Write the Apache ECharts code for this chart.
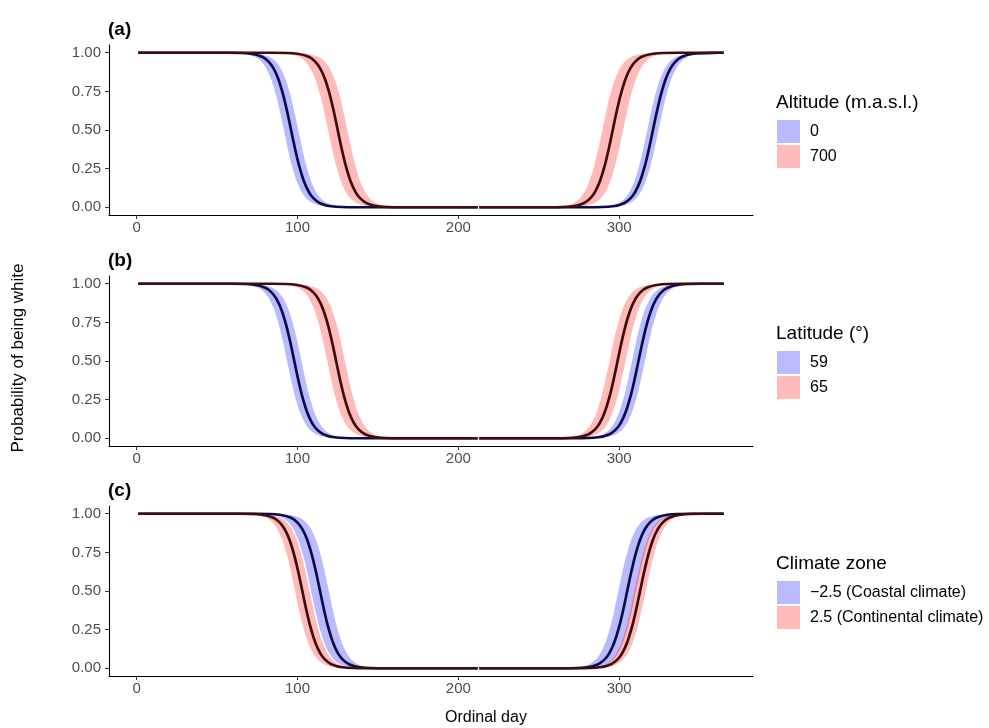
<!DOCTYPE html>
<html>
<head>
<meta charset="utf-8">
<script src="https://cdn.jsdelivr.net/npm/echarts@6/dist/echarts.min.js"></script>
<style>html,body{margin:0;padding:0;background:#fff}#c{width:989px;height:728px}</style>
</head>
<body>
<div id="c"></div>
<script>
// Probability levels at which the curves were read (spring = falling, autumn = rising)
const pDown = [1, 0.9997, 0.9933, 0.9734, 0.9427, 0.9002, 0.8320, 0.7311, 0.6225, 0.5, 0.3775, 0.2689, 0.1680, 0.0998, 0.0573, 0.0266, 0.0067, 0.0003, 0];
const pUp   = [0, 0.0003, 0.0067, 0.0266, 0.0573, 0.0998, 0.1680, 0.2689, 0.3775, 0.5, 0.6225, 0.7311, 0.8320, 0.9002, 0.9427, 0.9734, 0.9933, 0.9997, 1];

// Ordinal days at which each curve reaches the probability levels above
// Panel (a) Altitude
const altBlueSprMid = [1,56,71,78,82,85,88,91,93.5,96,98.5,101,104,107,110,114,121,136,212];
const altBlueSprE   = [1,51.5,66.5,73.5,77.5,80.5,83.5,86.5,89,91.5,94,96.5,99.5,102.5,105.5,109.5,116.5,131.5,212];
const altBlueSprL   = [1,60.5,75.5,82.5,86.5,89.5,92.5,95.5,98,100.5,103,105.5,108.5,111.5,114.5,118.5,125.5,140.5,212];
const altRedSprMid  = [1,85,100,107,111,114,117,120,122.5,125,127.5,130,133,136,139,143,150,165,212];
const altRedSprE    = [1,79,94,101,105,108,111,114,116.5,119,121.5,124,127,130,133,137,144,159,212];
const altRedSprL    = [1,91,106,113,117,120,123,126,128.5,131,133.5,136,139,142,145,149,156,171,212];
const altRedAutMid  = [213,256,271,278,282,285,288,291,293.5,296,298.5,301,304,307,310,314,321,336,365];
const altRedAutE    = [213,249.5,264.5,271.5,275.5,278.5,281.5,284.5,287,289.5,292,294.5,297.5,300.5,303.5,307.5,314.5,329.5,365];
const altRedAutL    = [213,262.5,277.5,284.5,288.5,291.5,294.5,297.5,300,302.5,305,307.5,310.5,313.5,316.5,320.5,327.5,342.5,365];
const altBlueAutMid = [213,281,296,303,307,310,313,316,318.5,321,323.5,326,329,332,335,339,346,361,365];
const altBlueAutE   = [213,277.5,292.5,299.5,303.5,306.5,309.5,312.5,315,317.5,320,322.5,325.5,328.5,331.5,335.5,342.5,357.5,365];
const altBlueAutL   = [213,284.5,299.5,306.5,310.5,313.5,316.5,319.5,322,324.5,327,329.5,332.5,335.5,338.5,342.5,349.5,364.5,365];
// Panel (b) Latitude
const latBlueSprMid = [1,58,73,80,84,87,90,93,95.5,98,100.5,103,106,109,112,116,123,138,212];
const latBlueSprE   = [1,53.5,68.5,75.5,79.5,82.5,85.5,88.5,91,93.5,96,98.5,101.5,104.5,107.5,111.5,118.5,133.5,212];
const latBlueSprL   = [1,62.5,77.5,84.5,88.5,91.5,94.5,97.5,100,102.5,105,107.5,110.5,113.5,116.5,120.5,127.5,142.5,212];
const latRedSprMid  = [1,84,99,106,110,113,116,119,121.5,124,126.5,129,132,135,138,142,149,164,212];
const latRedSprE    = [1,78.5,93.5,100.5,104.5,107.5,110.5,113.5,116,118.5,121,123.5,126.5,129.5,132.5,136.5,143.5,158.5,212];
const latRedSprL    = [1,89.5,104.5,111.5,115.5,118.5,121.5,124.5,127,129.5,132,134.5,137.5,140.5,143.5,147.5,154.5,169.5,212];
const latRedAutMid  = [213,259,274,281,285,288,291,294,296.5,299,301.5,304,307,310,313,317,324,339,365];
const latRedAutE    = [213,254,269,276,280,283,286,289,291.5,294,296.5,299,302,305,308,312,319,334,365];
const latRedAutL    = [213,264,279,286,290,293,296,299,301.5,304,306.5,309,312,315,318,322,329,344,365];
const latBlueAutMid = [213,272,287,294,298,301,304,307,309.5,312,314.5,317,320,323,326,330,337,352,365];
const latBlueAutE   = [213,268,283,290,294,297,300,303,305.5,308,310.5,313,316,319,322,326,333,348,365];
const latBlueAutL   = [213,276,291,298,302,305,308,311,313.5,316,318.5,321,324,327,330,334,341,356,365];
// Panel (c) Climate zone
const cliRedSprMid  = [1,63,78,85,89,92,95,98,100.5,103,105.5,108,111,114,117,121,128,143,212];
const cliRedSprE    = [1,58.5,73.5,80.5,84.5,87.5,90.5,93.5,96,98.5,101,103.5,106.5,109.5,112.5,116.5,123.5,138.5,212];
const cliRedSprL    = [1,67.5,82.5,89.5,93.5,96.5,99.5,102.5,105,107.5,110,112.5,115.5,118.5,121.5,125.5,132.5,147.5,212];
const cliBlueSprMid = [1,74,89,96,100,103,106,109,111.5,114,116.5,119,122,125,128,132,139,154,212];
const cliBlueSprE   = [1,68.5,83.5,90.5,94.5,97.5,100.5,103.5,106,108.5,111,113.5,116.5,119.5,122.5,126.5,133.5,148.5,212];
const cliBlueSprL   = [1,79.5,94.5,101.5,105.5,108.5,111.5,114.5,117,119.5,122,124.5,127.5,130.5,133.5,137.5,144.5,159.5,212];
const cliBlueAutMid = [213,265,280,287,291,294,297,300,302.5,305,307.5,310,313,316,319,323,330,345,365];
const cliBlueAutE   = [213,259.5,274.5,281.5,285.5,288.5,291.5,294.5,297,299.5,302,304.5,307.5,310.5,313.5,317.5,324.5,339.5,365];
const cliBlueAutL   = [213,270.5,285.5,292.5,296.5,299.5,302.5,305.5,308,310.5,313,315.5,318.5,321.5,324.5,328.5,335.5,350.5,365];
const cliRedAutMid  = [213,273,288,295,299,302,305,308,310.5,313,315.5,318,321,324,327,331,338,353,365];
const cliRedAutE    = [213,269.5,284.5,291.5,295.5,298.5,301.5,304.5,307,309.5,312,314.5,317.5,320.5,323.5,327.5,334.5,349.5,365];
const cliRedAutL    = [213,276.5,291.5,298.5,302.5,305.5,308.5,311.5,314,316.5,319,321.5,324.5,327.5,330.5,334.5,341.5,356.5,365];

// Labels
const panelTags = ['(a)', '(b)', '(c)'];
const legendTitles = ['Altitude (m.a.s.l.)', 'Latitude (°)', 'Climate zone'];
const blueNames = ['0', '59', '\u22122.5 (Coastal climate)'];
const redNames = ['700', '65', '2.5 (Continental climate)'];
const xTicks = [0, 100, 200, 300];
const yTicks = [0, 0.25, 0.5, 0.75, 1];

const BLUE_FILL = 'rgba(0,0,255,0.27)';
const RED_FILL = 'rgba(255,0,0,0.27)';
const BLUE_LINE = '#0c0c48';
const RED_LINE = '#3e0c0c';
const FONT = 'Liberation Sans, Arial, Helvetica, sans-serif';

const curves = [
  { blue: { spr: [altBlueSprE, altBlueSprMid, altBlueSprL], aut: [altBlueAutE, altBlueAutMid, altBlueAutL] },
    red:  { spr: [altRedSprE, altRedSprMid, altRedSprL],   aut: [altRedAutE, altRedAutMid, altRedAutL] } },
  { blue: { spr: [latBlueSprE, latBlueSprMid, latBlueSprL], aut: [latBlueAutE, latBlueAutMid, latBlueAutL] },
    red:  { spr: [latRedSprE, latRedSprMid, latRedSprL],   aut: [latRedAutE, latRedAutMid, latRedAutL] } },
  { blue: { spr: [cliBlueSprE, cliBlueSprMid, cliBlueSprL], aut: [cliBlueAutE, cliBlueAutMid, cliBlueAutL] },
    red:  { spr: [cliRedSprE, cliRedSprMid, cliRedSprL],   aut: [cliRedAutE, cliRedAutMid, cliRedAutL] } }
];

const gridTops = [45, 276, 506];
const GRID_LEFT = 109, GRID_W = 644, GRID_H = 170;

function pairs(days, probs) { return days.map((d, i) => [d, probs[i]]); }

function bandSeries(name, gi, early, late, probs, color) {
  const pts = pairs(early, probs).concat(pairs(late, probs).reverse());
  return {
    type: 'custom', name: name, xAxisIndex: gi, yAxisIndex: gi, silent: true, z: 1,
    itemStyle: { color: color },
    encode: { x: 0, y: 1 },
    data: pts,
    renderItem: function (params, api) {
      if (params.dataIndex !== 0) return null;
      const poly = pts.map(p => api.coord(p));
      return { type: 'polygon', shape: { points: poly, smooth: 0.25 }, style: { fill: color } };
    }
  };
}
function lineSeries(gi, days, probs, color) {
  return {
    type: 'line', xAxisIndex: gi, yAxisIndex: gi, silent: true, z: 3,
    data: pairs(days, probs), showSymbol: false, symbol: 'none',
    smooth: 0.3,
    lineStyle: { color: color, width: 2.7, cap: 'butt' }
  };
}

const grids = [], xAxes = [], yAxes = [], series = [], legends = [], titles = [];
for (let g = 0; g < 3; g++) {
  grids.push({ left: GRID_LEFT, top: gridTops[g], width: GRID_W, height: GRID_H });
  xAxes.push({
    type: 'value', gridIndex: g, min: -17.2, max: 383.2,
    axisLine: { show: true, onZero: false, lineStyle: { color: '#000', width: 1.1 } },
    axisTick: { show: true, customValues: xTicks, length: 4, lineStyle: { color: '#333' } },
    axisLabel: { show: true, customValues: xTicks, color: '#4d4d4d', fontSize: 15, margin: 5, fontFamily: FONT },
    splitLine: { show: false }
  });
  yAxes.push({
    type: 'value', gridIndex: g, min: -0.05, max: 1.05,
    axisLine: { show: true, onZero: false, lineStyle: { color: '#000', width: 1.1 } },
    axisTick: { show: true, customValues: yTicks, length: 4, lineStyle: { color: '#333' } },
    axisLabel: { show: true, customValues: yTicks, color: '#4d4d4d', fontSize: 15, margin: 8, fontFamily: FONT,
                 formatter: v => Number(v).toFixed(2) },
    splitLine: { show: false }
  });
  const c = curves[g];
  series.push(bandSeries(blueNames[g], g, c.blue.spr[0], c.blue.spr[2], pDown, BLUE_FILL));
  series.push(bandSeries(blueNames[g], g, c.blue.aut[0], c.blue.aut[2], pUp, BLUE_FILL));
  series.push(bandSeries(redNames[g], g, c.red.spr[0], c.red.spr[2], pDown, RED_FILL));
  series.push(bandSeries(redNames[g], g, c.red.aut[0], c.red.aut[2], pUp, RED_FILL));
  series.push(lineSeries(g, c.blue.spr[1], pDown, BLUE_LINE));
  series.push(lineSeries(g, c.blue.aut[1], pUp, BLUE_LINE));
  series.push(lineSeries(g, c.red.spr[1], pDown, RED_LINE));
  series.push(lineSeries(g, c.red.aut[1], pUp, RED_LINE));

  legends.push({
    orient: 'vertical', left: 777, top: gridTops[g] + 75, padding: 0,
    itemWidth: 23, itemHeight: 23, itemGap: 2, icon: 'rect', selectedMode: false,
    data: [{ name: blueNames[g], itemStyle: { color: BLUE_FILL } }, { name: redNames[g], itemStyle: { color: RED_FILL } }],
    textStyle: { fontSize: 16, color: '#000', fontFamily: FONT, padding: [0, 0, 0, 5] }
  });
  titles.push({ text: panelTags[g], left: 108, top: gridTops[g] - 25, padding: 0,
                textStyle: { fontSize: 19, fontWeight: 'bold', color: '#000', fontFamily: FONT } });
  titles.push({ text: legendTitles[g], left: 776, top: gridTops[g] + 48, padding: 0,
                textStyle: { fontSize: 19, fontWeight: 'normal', color: '#000', fontFamily: FONT } });
}

const chart = echarts.init(document.getElementById('c'), null, { renderer: 'canvas' });
chart.setOption({
  animation: false,
  backgroundColor: '#fff',
  textStyle: { fontFamily: FONT },
  grid: grids, xAxis: xAxes, yAxis: yAxes, series: series, legend: legends, title: titles,
  graphic: [
    { type: 'text', x: 486, y: 718, style: { text: 'Ordinal day', font: '16px ' + FONT, fill: '#000', textAlign: 'center', textVerticalAlign: 'middle' } },
    { type: 'text', x: 18, y: 358, rotation: Math.PI / 2, style: { text: 'Probability of being white', font: '17px ' + FONT, fill: '#000', textAlign: 'center', textVerticalAlign: 'middle' } }
  ]
});
</script>
</body>
</html>
